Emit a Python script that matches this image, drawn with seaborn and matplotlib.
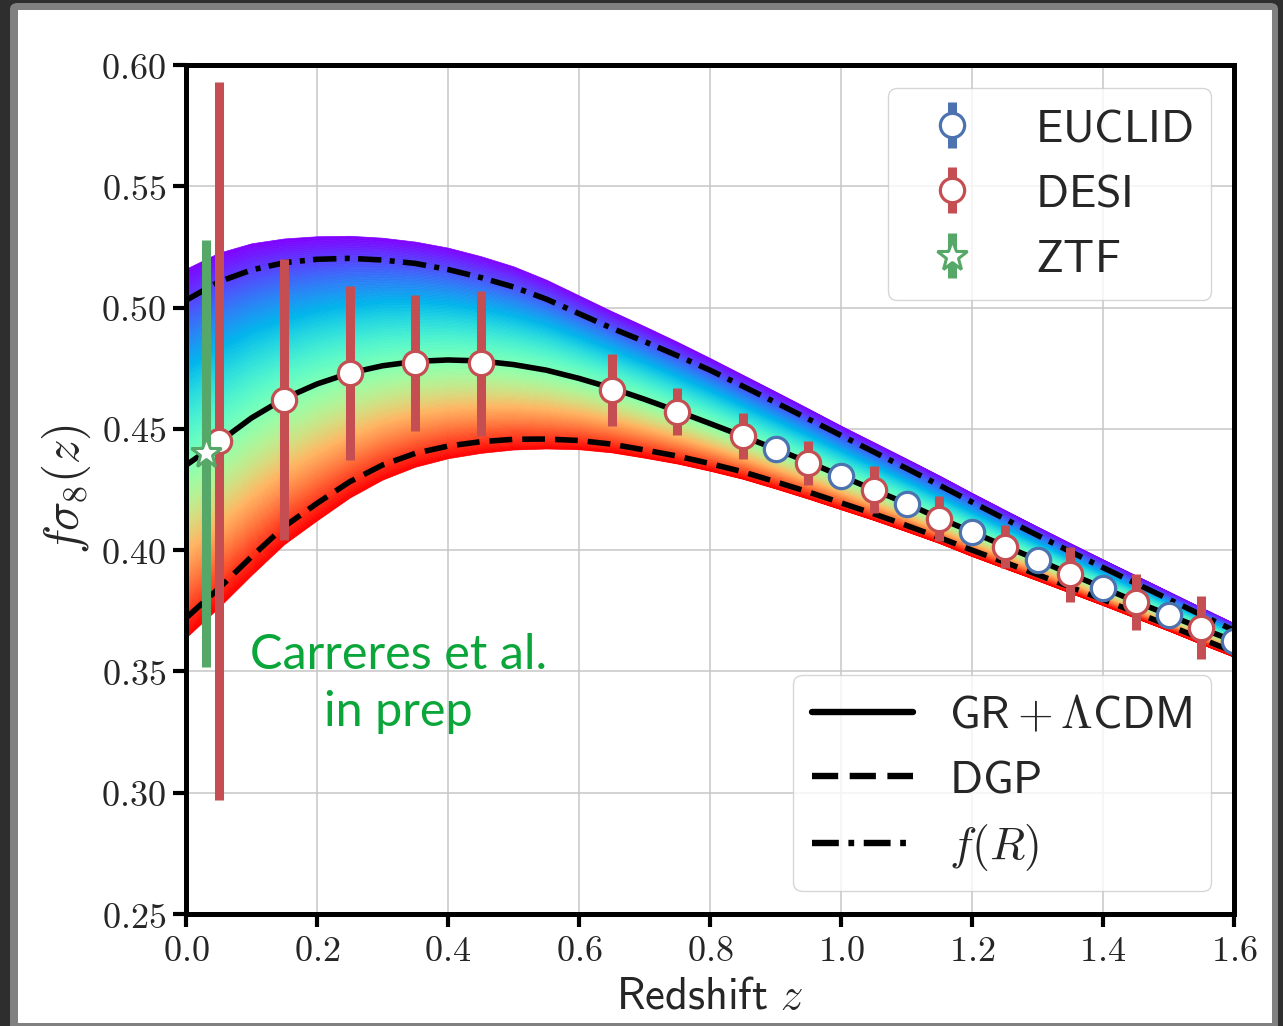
import numpy as np
import pandas as pd
import matplotlib
matplotlib.use("Agg")
import matplotlib.pyplot as plt
from matplotlib.patches import FancyBboxPatch, Rectangle
from matplotlib.lines import Line2D
from matplotlib.ticker import FixedLocator, FuncFormatter
import seaborn as sns

# ---------------- data ----------------
z_grid = [0.00, 0.05, 0.10, 0.15, 0.20, 0.25, 0.30, 0.35, 0.40, 0.45, 0.50,
          0.55, 0.60, 0.65, 0.70, 0.75, 0.80, 0.85, 0.90, 0.95, 1.00, 1.05,
          1.10, 1.15, 1.20, 1.25, 1.30, 1.35, 1.40, 1.45, 1.50, 1.55, 1.60]

gr_lcdm = [0.4350, 0.4445, 0.4545, 0.4625, 0.4685, 0.4730, 0.4760, 0.4778,
           0.4784, 0.4780, 0.4765, 0.4742, 0.4708, 0.4668, 0.4622, 0.4573,
           0.4522, 0.4470, 0.4417, 0.4363, 0.4306, 0.4249, 0.4192, 0.4132,
           0.4075, 0.4017, 0.3960, 0.3902, 0.3845, 0.3788, 0.3733, 0.3678,
           0.3625]

dgp = [0.3720, 0.3842, 0.3973, 0.4097, 0.4193, 0.4282, 0.4351, 0.4399,
       0.4429, 0.4447, 0.4457, 0.4458, 0.4452, 0.4437, 0.4413, 0.4388,
       0.4357, 0.4323, 0.4282, 0.4240, 0.4195, 0.4150, 0.4102, 0.4052,
       0.4000, 0.3950, 0.3899, 0.3848, 0.3796, 0.3743, 0.3690, 0.3635,
       0.3580]

f_r = [0.5030, 0.5106, 0.5155, 0.5185, 0.5199, 0.5203, 0.5196, 0.5182,
       0.5157, 0.5124, 0.5085, 0.5035, 0.4975, 0.4915, 0.4860, 0.4802,
       0.4742, 0.4676, 0.4609, 0.4541, 0.4473, 0.4405, 0.4337, 0.4268,
       0.4198, 0.4129, 0.4061, 0.3994, 0.3928, 0.3863, 0.3798, 0.3733,
       0.3669]

band_upper = [0.5160, 0.5226, 0.5265, 0.5285, 0.5294, 0.5296, 0.5288, 0.5272,
              0.5247, 0.5212, 0.5170, 0.5115, 0.5050, 0.4985, 0.4923, 0.4859,
              0.4792, 0.4723, 0.4654, 0.4584, 0.4513, 0.4445, 0.4377, 0.4308,
              0.4236, 0.4166, 0.4097, 0.4029, 0.3962, 0.3896, 0.3830, 0.3764,
              0.3699]

band_lower = [0.3640, 0.3764, 0.3898, 0.4025, 0.4123, 0.4217, 0.4291, 0.4344,
              0.4379, 0.4401, 0.4415, 0.4419, 0.4416, 0.4403, 0.4381, 0.4357,
              0.4327, 0.4294, 0.4254, 0.4212, 0.4168, 0.4124, 0.4077, 0.4029,
              0.3975, 0.3925, 0.3875, 0.3824, 0.3773, 0.3720, 0.3668, 0.3613,
              0.3560]

desi_z = [0.05, 0.15, 0.25, 0.35, 0.45, 0.65, 0.75, 0.85, 0.95, 1.05, 1.15,
          1.25, 1.35, 1.45, 1.55]
desi_fs8 = [0.445, 0.462, 0.473, 0.477, 0.477, 0.466, 0.457, 0.447, 0.436,
            0.425, 0.413, 0.4015, 0.390, 0.3785, 0.368]
desi_err = [0.148, 0.058, 0.036, 0.028, 0.030, 0.015, 0.0097, 0.0095, 0.0091,
            0.0096, 0.0092, 0.0089, 0.0112, 0.0115, 0.013]

euclid_z = [0.9, 1.0, 1.1, 1.2, 1.3, 1.4, 1.5, 1.6]
euclid_fs8 = [0.4417, 0.4305, 0.4190, 0.4075, 0.3959, 0.3844, 0.3733, 0.3625]
euclid_err = [0.003, 0.003, 0.003, 0.003, 0.003, 0.003, 0.003, 0.003]

ztf_z = [0.03]
ztf_fs8 = [0.440]
ztf_err = [0.088]

x_ticks = [0.0, 0.2, 0.4, 0.6, 0.8, 1.0, 1.2, 1.4, 1.6]
y_ticks = [0.25, 0.30, 0.35, 0.40, 0.45, 0.50, 0.55, 0.60]

# ---------------- style ----------------
sns.set_theme(style="whitegrid")
plt.rcParams.update({
    "mathtext.fontset": "cm",
    "font.family": ["DejaVu Sans"],
    "axes.edgecolor": "black",
    "axes.linewidth": 3.6,
    "grid.color": "#c6c6c6",
    "grid.linewidth": 1.1,
    "legend.fontsize": 33,
    "legend.framealpha": 0.8,
    "legend.edgecolor": "#cccccc",
})

W, H = 1283, 1026
fig = plt.figure(figsize=(W / 100, H / 100), dpi=100, facecolor="#2e2e2e")
fig.patches.append(FancyBboxPatch((10 / W, -0.05), 1268 / W, 1.05 - 3 / H,
                                  boxstyle="round,pad=0,rounding_size=0.006",
                                  transform=fig.transFigure, facecolor="#808080",
                                  edgecolor="none", zorder=-2))
fig.patches.append(Rectangle((18 / W, 3 / H), 1254 / W, 1 - 13 / H,
                             transform=fig.transFigure, facecolor="white",
                             edgecolor="none", zorder=-1))

ax = fig.add_axes([186 / W, 1 - 914 / H, (1234 - 186) / W, (914 - 65) / H])
ax.set_facecolor("white")

# ---------------- rainbow band ----------------
zg = np.array(z_grid)
up = np.array(band_upper)
gr = np.array(gr_lcdm)
lo = np.array(band_lower)
cmap = plt.get_cmap("rainbow")


def band_y(t):
    if t <= 0.5:
        return up + (gr - up) * (t / 0.5)
    return gr + (lo - gr) * ((t - 0.5) / 0.5)


N = 160
for i in range(N):
    t0, t1 = i / N, (i + 1) / N
    c = cmap((t0 + t1) / 2)
    ax.fill_between(zg, band_y(t0), band_y(t1), facecolor=c, edgecolor=c,
                    linewidth=0.5, zorder=1)

# ---------------- model curves ----------------
LW = 4.0
DASH = (4.1, 1.8)
DASHDOT = (4.2, 1.5, 0.9, 1.5)
for yvals, dashes in [(gr_lcdm, None), (dgp, DASH), (f_r, DASHDOT)]:
    sns.lineplot(x=z_grid, y=yvals, color="black", linewidth=LW, ax=ax,
                 legend=False, sort=False)
    ln = ax.lines[-1]
    ln.set_linewidth(LW)
    ln.set_zorder(3)
    if dashes is not None:
        ln.set_dashes(dashes)

# ---------------- data points ----------------
blue, red, green = "#4c72b0", "#c44e52", "#55a868"
eb_kw = dict(fmt="o", mfc="white", ms=17.5, mew=2.3, elinewidth=6.5, capsize=0,
             zorder=5)
h_eu = ax.errorbar(euclid_z, euclid_fs8, yerr=euclid_err, color=blue,
                   mec=blue, label=r"$\mathsf{EUCLID}$", **eb_kw)
h_de = ax.errorbar(desi_z, desi_fs8, yerr=desi_err, color=red, mec=red,
                   label=r"$\mathsf{DESI}$", **eb_kw)
h_zt = ax.errorbar(ztf_z, ztf_fs8, yerr=ztf_err, fmt="*", color=green,
                   mfc="white", mec=green, ms=23, mew=2.2, elinewidth=6.5,
                   capsize=0, zorder=6, label=r"$\mathsf{ZTF}$")

ax.text(0.324, 0.3450, "Carreres et al.\nin prep", ha="center", va="center",
        color="#0aa63a", fontsize=35, family="Lato", linespacing=1.38, zorder=4)

# ---------------- axes ----------------
ax.set_xlim(0, 1.6)
ax.set_ylim(0.25, 0.60)
ax.xaxis.set_major_locator(FixedLocator(x_ticks))
ax.yaxis.set_major_locator(FixedLocator(y_ticks))
ax.xaxis.set_major_formatter(FuncFormatter(lambda v, p: r"$%.1f$" % v))
ax.yaxis.set_major_formatter(FuncFormatter(lambda v, p: r"$%.2f$" % v))
ax.tick_params(axis="both", which="major", direction="out", length=9.5,
               width=3.0, pad=5, labelsize=26, color="black",
               left=True, bottom=True, top=False, right=False)
ax.grid(True, color="#c6c6c6", lw=1.1)
ax.set_axisbelow(True)
for s in ax.spines.values():
    s.set_visible(True)
    s.set_color("black")
    s.set_linewidth(3.6)
    s.set_zorder(10)

ax.set_xlabel(r"$\mathsf{Redshift}\ z$", fontsize=32, labelpad=5)
ax.set_ylabel(r"$f\sigma_8(z)$", fontsize=35, labelpad=6)

# ---------------- legends ----------------
leg1 = ax.legend(handles=[h_eu, h_de, h_zt], loc="upper right",
                 fontsize=33, frameon=True, labelspacing=0.44)
leg1.set_zorder(20)
ax.add_artist(leg1)

model_handles = [
    Line2D([], [], color="black", lw=LW + 0.6, label=r"$\mathsf{GR}+\Lambda\mathsf{CDM}$"),
    Line2D([], [], color="black", lw=LW + 0.6, dashes=DASH, label=r"$\mathsf{DGP}$"),
    Line2D([], [], color="black", lw=LW + 0.6, dashes=DASHDOT, label=r"$f(R)$"),
]
leg2 = ax.legend(handles=model_handles, loc="lower right", fontsize=33,
                 frameon=True, labelspacing=0.42, handlelength=2.2)
leg2.set_zorder(20)

fig.savefig("out.png", dpi=100, facecolor=fig.get_facecolor())
